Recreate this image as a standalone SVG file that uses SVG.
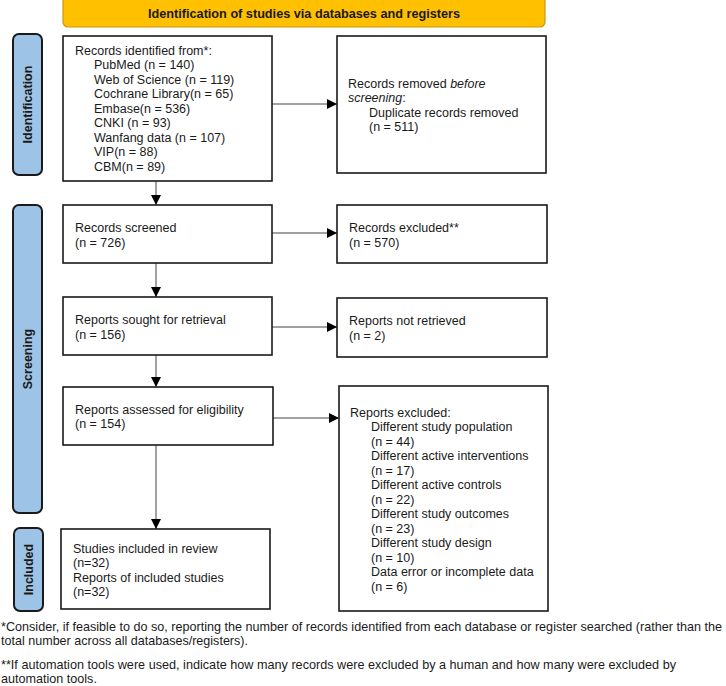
<svg xmlns="http://www.w3.org/2000/svg" width="726" height="686" viewBox="0 0 726 686">
<style>
text{font-family:"Liberation Sans",Arial,sans-serif;font-size:12.5px;fill:#1a1a1a}
.box{fill:#fff;stroke:#1a1a1a;stroke-width:1.6}
.side{fill:#9DC3E6;stroke:#1a1a1a;stroke-width:2}
.sidet{font-weight:bold;font-size:12.5px;text-anchor:middle}
.ban{fill:#FFC000;stroke:#C8960C;stroke-width:1.2}
.bant{font-weight:bold;text-anchor:middle}
.ln{stroke:#444;stroke-width:1;fill:none}
.foot{font-size:12.6px}
</style>
<defs>
<marker id="ah" viewBox="0 0 10 10" refX="10" refY="5" markerWidth="10" markerHeight="10" markerUnits="userSpaceOnUse" orient="auto">
<path d="M0,0 L10,5 L0,10 z" fill="#000"/>
</marker>
</defs>

<g id="banner">
<rect class="ban" x="63" y="-10" width="482" height="37" rx="5"/>
<text class="bant" x="304" y="17.5" textLength="312" lengthAdjust="spacingAndGlyphs">Identification of studies via databases and registers</text>
</g>

<g id="label-identification">
<rect class="side" x="13" y="34" width="29" height="141" rx="6"/>
<text class="sidet" transform="translate(32,104.5) rotate(-90)">Identification</text>
</g>
<g id="label-screening">
<rect class="side" x="13" y="205" width="29" height="308" rx="6"/>
<text class="sidet" transform="translate(32,359) rotate(-90)">Screening</text>
</g>
<g id="label-included">
<rect class="side" x="14" y="528" width="29" height="83" rx="6"/>
<text class="sidet" transform="translate(33,569.5) rotate(-90)">Included</text>
</g>

<g id="connectors">
<line class="ln" x1="272" y1="104" x2="337" y2="104" marker-end="url(#ah)"/>
<line class="ln" x1="156" y1="181" x2="156" y2="205" marker-end="url(#ah)"/>
<line class="ln" x1="272" y1="233" x2="337" y2="233" marker-end="url(#ah)"/>
<line class="ln" x1="156" y1="263" x2="156" y2="297" marker-end="url(#ah)"/>
<line class="ln" x1="272" y1="327" x2="337" y2="327" marker-end="url(#ah)"/>
<line class="ln" x1="156" y1="355" x2="156" y2="387" marker-end="url(#ah)"/>
<line class="ln" x1="273" y1="418" x2="339" y2="418" marker-end="url(#ah)"/>
<line class="ln" x1="156" y1="445" x2="156" y2="529" marker-end="url(#ah)"/>
</g>

<g id="records-identified">
<rect class="box" x="63" y="36" width="209" height="145"/>
<text x="75" y="54.5">Records identified from*:</text>
<text x="94" y="69">PubMed (n = 140)</text>
<text x="94" y="83.5">Web of Science (n = 119)</text>
<text x="94" y="98">Cochrane Library(n = 65)</text>
<text x="94" y="112.5">Embase(n = 536)</text>
<text x="94" y="127">CNKI (n = 93)</text>
<text x="94" y="141.5">Wanfang data (n = 107)</text>
<text x="94" y="156">VIP(n = 88)</text>
<text x="94" y="170.5">CBM(n = 89)</text>
</g>

<g id="records-removed">
<rect class="box" x="337" y="36" width="209" height="137"/>
<text x="348" y="87.5">Records removed <tspan font-style="italic">before</tspan></text>
<text x="348" y="102"><tspan font-style="italic">screening</tspan>:</text>
<text x="369" y="116.5">Duplicate records removed</text>
<text x="369" y="131">(n = 511)</text>
</g>

<g id="records-screened">
<rect class="box" x="63" y="205" width="209" height="58"/>
<text x="75" y="232">Records screened</text>
<text x="75" y="246.5">(n = 726)</text>
</g>

<g id="records-excluded">
<rect class="box" x="337" y="205" width="210" height="58"/>
<text x="349" y="232">Records excluded**</text>
<text x="349" y="246.5">(n = 570)</text>
</g>

<g id="reports-sought">
<rect class="box" x="63" y="297" width="209" height="58"/>
<text x="75" y="324">Reports sought for retrieval</text>
<text x="75" y="338.5">(n = 156)</text>
</g>

<g id="reports-not-retrieved">
<rect class="box" x="337" y="298" width="210" height="59"/>
<text x="349" y="325">Reports not retrieved</text>
<text x="349" y="339.5">(n = 2)</text>
</g>

<g id="reports-assessed">
<rect class="box" x="63" y="387" width="210" height="58"/>
<text x="75" y="413.5">Reports assessed for eligibility</text>
<text x="75" y="428">(n = 154)</text>
</g>

<g id="reports-excluded">
<rect class="box" x="339" y="386" width="209" height="225"/>
<text x="350" y="416.5">Reports excluded:</text>
<text x="371" y="431">Different study population</text>
<text x="371" y="445.5">(n = 44)</text>
<text x="371" y="460">Different active interventions</text>
<text x="371" y="474.5">(n = 17)</text>
<text x="371" y="489">Different active controls</text>
<text x="371" y="503.5">(n = 22)</text>
<text x="371" y="518">Different study outcomes</text>
<text x="371" y="532.5">(n = 23)</text>
<text x="371" y="547">Different study design</text>
<text x="371" y="561.5">(n = 10)</text>
<text x="371" y="576">Data error or incomplete data</text>
<text x="371" y="590.5">(n = 6)</text>
</g>

<g id="studies-included">
<rect class="box" x="61" y="529" width="209" height="80"/>
<text x="73" y="552.5">Studies included in review</text>
<text x="73" y="567">(n=32)</text>
<text x="73" y="581.5">Reports of included studies</text>
<text x="73" y="596">(n=32)</text>
</g>

<g id="footnotes">
<text class="foot" x="1" y="630.5" textLength="721" lengthAdjust="spacingAndGlyphs">*Consider, if feasible to do so, reporting the number of records identified from each database or register searched (rather than the</text>
<text class="foot" x="1" y="644.5" textLength="247" lengthAdjust="spacingAndGlyphs">total number across all databases/registers).</text>
<text class="foot" x="1" y="668.5" textLength="675" lengthAdjust="spacingAndGlyphs">**If automation tools were used, indicate how many records were excluded by a human and how many were excluded by</text>
<text class="foot" x="1" y="683">automation tools.</text>
</g>
</svg>
